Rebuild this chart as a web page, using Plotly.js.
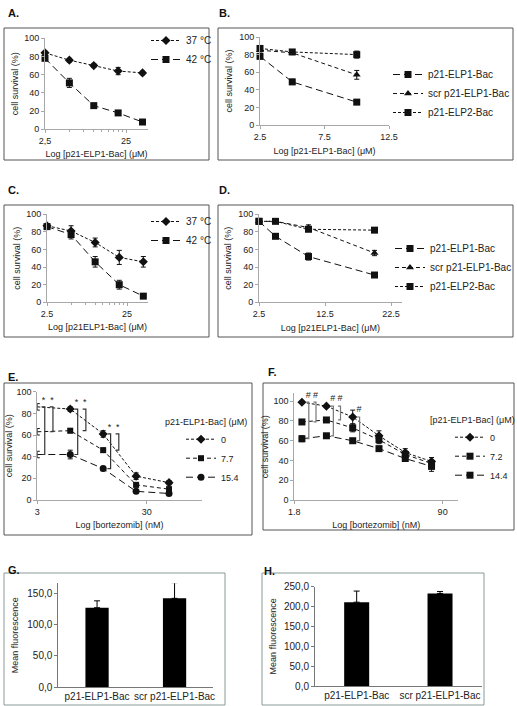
<!DOCTYPE html>
<html>
<head>
<meta charset="utf-8">
<script src="https://cdn.plot.ly/plotly-3.0.1.min.js"></script>
<style>html,body{margin:0;padding:0;background:#fff;}#chart{width:517px;height:706px;}</style>
</head>
<body>
<div id="chart"></div>
<script>
// ---------- DATA ----------
// Panel A (log x)
const concA = [2.5, 5, 10, 20, 40];
const a37 = [84, 76, 70, 64, 62];
const a37Err = [2, 2, 2, 4, 2];
const a42 = [78, 51, 26, 18, 8];
const a42Err = [2, 5, 2, 2, 1];
// Panel B (linear x)
const concB = [2.5, 5, 10];
const bElp1 = [78, 49, 26];
const bElp1Err = [3, 3, 2];
const bScr = [85, 82, 57];
const bScrErr = [2, 2, 5];
const bElp2 = [87, 83, 80];
const bElp2Err = [2, 2, 4];
// Panel C (log x)
const concC = [2.5, 5, 10, 20, 40];
const c37 = [87, 81, 68, 51, 46];
const c37Err = [2, 6, 5, 8, 6];
const c42 = [86, 77, 46, 20, 7];
const c42Err = [2, 5, 6, 5, 1];
// Panel D (linear x)
const concD = [2.5, 5, 10, 20];
const dElp1 = [92, 75, 52, 31];
const dElp1Err = [1, 2, 4, 2];
const dScr = [92, 92, 85, 56];
const dScrErr = [1, 1, 3, 3];
const dElp2 = [92, 92, 83, 82];
const dElp2Err = [1, 1, 2, 2];
// Panel E (log x, bortezomib nM)
const concE = [3, 6, 12, 24, 48];
const e0 = [86, 84, 61, 22, 16];
const e0Err = [3, 2, 3, 3, 2];
const e77 = [63, 64, 46, 14, 10];
const e77Err = [3, 2, 2, 2, 2];
const e154 = [42, 42, 29, 8, 6];
const e154Err = [3, 4, 2, 1, 1];
const eSigInner = [0, 1, 2];   // 0 vs 15.4
const eSigOuter = [0, 1, 2];   // 0 vs 7.7
// Panel F (log x, bortezomib nM)
const concF = [2.2, 4.2, 8.4, 16.8, 33.6, 67.2];
const f0 = [99, 95, 84, 65, 48, 39];
const f0Err = [1, 1, 7, 5, 4, 4];
const f72 = [79, 81, 73, 61, 46, 37];
const f72Err = [2, 1, 4, 4, 3, 3];
const f144 = [62, 65, 60, 52, 42, 34];
const f144Err = [3, 1, 1, 2, 2, 5];
const fSigInner = [0, 1, 2];   // 0 vs 14.4
const fSigOuter = [0, 1];      // 0 vs 7.2
// Panels G / H (bars)
const barCats = ['p21-ELP1-Bac', 'scr p21-ELP1-Bac'];
const gVals = [127, 142];
const gErr = [11, 25];
const hVals = [211, 233];
const hErr = [28, 5];
// Tick labels
const ticksAx = [2.5, 25], ticksAt = ['2,5', '25'];
const ticksCx = [2.5, 25], ticksCt = ['2.5', '25'];
const ticksBx = [2.5, 7.5, 12.5], ticksBt = ['2.5', '7.5', '12.5'];
const ticksDx = [2.5, 12.5, 22.5], ticksDt = ['2.5', '12.5', '22.5'];
const ticksEx = [3, 30], ticksEt = ['3', '30'];
const ticksFx = [1.8, 90], ticksFt = ['1.8', '90'];
const minorLog = [5, 7.5, 10, 12.5, 15, 17.5, 20, 22.5];
const survTicks = [0, 20, 40, 60, 80, 100];
const gTicks = [0, 50, 100, 150], gTickText = ['0,0', '50,0', '100,0', '150,0'];
const hTicks = [0, 50, 100, 150, 200, 250], hTickText = ['0,0', '50,0', '100,0', '150,0', '200,0', '250,0'];

// ---------- LAYOUT HELPERS ----------
const W = 517, H = 706;
const fx = p => p / W;
const fy = p => 1 - p / H;
const TXT = '#222';
const SHORT = '3px,2px', MED = '4px,3px', LONG = '7px,4px';
const INK = '#111';

function series(x, y, err, name, sym, size, dash, xa, ya, leg) {
  return {
    type: 'scatter', mode: 'lines+markers', x: x, y: y, name: name,
    xaxis: xa, yaxis: ya, legend: leg, showlegend: true, cliponaxis: false,
    line: {color: INK, width: 1, dash: dash},
    marker: {symbol: sym, size: size, color: INK},
    error_y: {type: 'data', array: err, visible: true, color: INK, thickness: 1, width: 2.5}
  };
}
function brackets(x, top, bot, idx, k, color, xa, ya) {
  const xs = [], ys = [];
  idx.forEach(i => {
    const xb = x[i] * k, xt = xb / 1.07;
    xs.push(xt, xb, xb, xt, null);
    ys.push(top[i], top[i], bot[i], bot[i], null);
  });
  return {type: 'scatter', mode: 'lines', x: xs, y: ys, xaxis: xa, yaxis: ya,
    showlegend: false, hoverinfo: 'skip', cliponaxis: false,
    line: {color: color, width: 1.2}};
}
function marks(x, top, idx, k, sym, dy, xa, ya) {
  return {type: 'scatter', mode: 'text', x: idx.map(i => x[i] * k), y: idx.map(i => top[i] + dy),
    text: idx.map(() => sym), textposition: 'middle center', xaxis: xa, yaxis: ya,
    showlegend: false, hoverinfo: 'skip', cliponaxis: false,
    textfont: {size: 9, color: TXT}};
}

const traces = [
  // A
  series(concA, a37, a37Err, '37 °C', 'diamond', 7, SHORT, 'x', 'y', 'legend'),
  series(concA, a42, a42Err, '42 °C', 'square', 7, LONG, 'x', 'y', 'legend'),
  // B
  series(concB, bElp1, bElp1Err, 'p21-ELP1-Bac', 'square', 7, LONG, 'x2', 'y2', 'legend2'),
  series(concB, bScr, bScrErr, 'scr p21-ELP1-Bac', 'triangle-up', 7, MED, 'x2', 'y2', 'legend2'),
  series(concB, bElp2, bElp2Err, 'p21-ELP2-Bac', 'square', 7, SHORT, 'x2', 'y2', 'legend2'),
  // C
  series(concC, c37, c37Err, '37 °C', 'diamond', 7, SHORT, 'x3', 'y3', 'legend3'),
  series(concC, c42, c42Err, '42 °C', 'square', 7, LONG, 'x3', 'y3', 'legend3'),
  // D
  series(concD, dElp1, dElp1Err, 'p21-ELP1-Bac', 'square', 7, LONG, 'x4', 'y4', 'legend4'),
  series(concD, dScr, dScrErr, 'scr p21-ELP1-Bac', 'triangle-up', 7, MED, 'x4', 'y4', 'legend4'),
  series(concD, dElp2, dElp2Err, 'p21-ELP2-Bac', 'square', 7, SHORT, 'x4', 'y4', 'legend4'),
  // E
  series(concE, e0, e0Err, '0', 'diamond', 7, SHORT, 'x5', 'y5', 'legend5'),
  series(concE, e77, e77Err, '7.7', 'square', 6, MED, 'x5', 'y5', 'legend5'),
  series(concE, e154, e154Err, '15.4', 'circle', 7, LONG, 'x5', 'y5', 'legend5'),
  brackets(concE, e0, e154, eSigInner, 1.17, '#333', 'x5', 'y5'),
  brackets(concE, e0, e77, eSigOuter, 1.39, '#333', 'x5', 'y5'),
  marks(concE, e0, eSigInner, 1.14, '*', 6, 'x5', 'y5'),
  marks(concE, e0, eSigOuter, 1.36, '*', 6, 'x5', 'y5'),
  // F
  series(concF, f0, f0Err, '0', 'diamond', 7, SHORT, 'x6', 'y6', 'legend6'),
  series(concF, f72, f72Err, '7.2', 'square', 7, MED, 'x6', 'y6', 'legend6'),
  series(concF, f144, f144Err, '14.4', 'square', 7, LONG, 'x6', 'y6', 'legend6'),
  brackets(concF, f0, f144, fSigInner, 1.2, '#777', 'x6', 'y6'),
  brackets(concF, f0, f72, fSigOuter, 1.45, '#777', 'x6', 'y6'),
  marks(concF, f0, fSigInner, 1.18, '#', 7, 'x6', 'y6'),
  marks(concF, f0, fSigOuter, 1.43, '#', 7, 'x6', 'y6'),
  // G
  {type: 'bar', x: barCats, y: gVals, xaxis: 'x7', yaxis: 'y7', width: 0.3, showlegend: false,
   marker: {color: '#000'}, cliponaxis: false,
   error_y: {type: 'data', symmetric: false, array: gErr, arrayminus: [0, 0], color: '#000', thickness: 1, width: 3}},
  // H
  {type: 'bar', x: barCats, y: hVals, xaxis: 'x8', yaxis: 'y8', width: 0.3, showlegend: false,
   marker: {color: '#000'}, cliponaxis: false,
   error_y: {type: 'data', symmetric: false, array: hErr, arrayminus: [0, 0], color: '#000', thickness: 1, width: 3}}
];

const LC = '#a8a8a8';
function axis(d0, d1, extra) {
  return Object.assign({domain: [d0, d1], showgrid: false, zeroline: false, showline: true,
    linecolor: LC, linewidth: 1, ticks: 'outside', ticklen: 3, tickcolor: LC, tickwidth: 1,
    tickfont: {size: 9, color: TXT}, fixedrange: true}, extra);
}
function ttl(text, standoff) { return {text: text, font: {size: 9, color: TXT}, standoff: standoff}; }
const L10 = Math.log10;

function survY(anchor, top, bottom, standoff, range) {
  return axis(fy(bottom), fy(top), {anchor: anchor, range: range || [0, 100], tickmode: 'array',
    tickvals: survTicks, title: ttl('cell survival (%)', standoff)});
}

const layout = {
  width: W, height: H, margin: {l: 0, r: 0, t: 0, b: 0},
  paper_bgcolor: '#fff', plot_bgcolor: 'rgba(0,0,0,0)',
  font: {family: 'Liberation Sans, Arial, sans-serif', size: 9, color: TXT},
  showlegend: true,
  // A
  xaxis: axis(fx(45), fx(148), {anchor: 'y', type: 'log', range: [L10(2.5), L10(2.5) + 103 / 81],
    tickmode: 'array', tickvals: ticksAx, ticktext: ticksAt,
    minor: {tickmode: 'array', tickvals: minorLog, ticks: 'outside', ticklen: 2, tickcolor: LC},
    title: ttl('Log [p21-ELP1-Bac] (μM)', 5)}),
  yaxis: survY('x', 38.3, 129.3, 4),
  // B
  xaxis2: axis(fx(260), fx(389), {anchor: 'y2', range: [2.5, 12.5], tickmode: 'array',
    tickvals: ticksBx, ticktext: ticksBt, title: ttl('Log [p21-ELP1-Bac] (μM)', 6)}),
  yaxis2: survY('x2', 37, 125, 5),
  // C
  xaxis3: axis(fx(47), fx(148), {anchor: 'y3', type: 'log', range: [L10(2.5), L10(2.5) + 101 / 80],
    tickmode: 'array', tickvals: ticksCx, ticktext: ticksCt,
    minor: {tickmode: 'array', tickvals: minorLog, ticks: 'outside', ticklen: 2, tickcolor: LC},
    title: ttl('Log [p21ELP1-Bac] (μM)', 5)}),
  yaxis3: survY('x3', 214.3, 302.3, 4),
  // D
  xaxis4: axis(fx(259), fx(401.7), {anchor: 'y4', range: [2.5, 24.12], tickmode: 'array',
    tickvals: ticksDx, ticktext: ticksDt, title: ttl('Log [p21ELP1-Bac] (μM)', 6)}),
  yaxis4: survY('x4', 214.3, 302.3, 5),
  // E
  xaxis5: axis(fx(37.3), fx(201.7), {anchor: 'y5', type: 'log', range: [L10(3), L10(3) + 164.4 / 109.4],
    tickmode: 'array', tickvals: ticksEx, ticktext: ticksEt, title: ttl('Log [bortezomib] (nM)', 5)}),
  yaxis5: survY('x5', 391.7, 500, 2),
  // F
  xaxis6: axis(fx(294.3), fx(458.3), {anchor: 'y6', type: 'log', range: [L10(1.8), L10(1.8) + 164 / 87.3],
    tickmode: 'array', tickvals: ticksFx, ticktext: ticksFt, title: ttl('Log [bortezomib] (nM)', 5)}),
  yaxis6: survY('x6', 393.3, 500, 3, [0, 108]),
  // G
  xaxis7: axis(fx(58.3), fx(213.3), {anchor: 'y7', type: 'category', range: [-0.5, 1.5], ticks: '',
    linecolor: '#777', tickfont: {size: 10, color: TXT}}),
  yaxis7: axis(fy(687.3), fy(583.3), {anchor: 'x7', range: [0, 166], tickmode: 'array', tickvals: gTicks,
    ticktext: gTickText, linecolor: '#777', tickcolor: '#777', tickfont: {size: 10, color: TXT},
    title: ttl('Mean fluorescence', 7)}),
  // H
  xaxis8: axis(fx(315), fx(481.7), {anchor: 'y8', type: 'category', range: [-0.5, 1.5], ticks: '',
    linecolor: '#777', tickfont: {size: 10, color: TXT}}),
  yaxis8: axis(fy(686), fy(586.7), {anchor: 'x8', range: [0, 250], tickmode: 'array', tickvals: hTicks,
    ticktext: hTickText, linecolor: '#777', tickcolor: '#777', tickfont: {size: 10, color: TXT},
    title: ttl('Mean fluorescence', 5)}),
  // legends
  legend: {x: fx(146), y: fy(26), xanchor: 'left', yanchor: 'top', bgcolor: 'rgba(0,0,0,0)',
    font: {size: 10, color: TXT}, itemwidth: 30, tracegroupgap: 0},
  legend2: {x: fx(388), y: fy(60), xanchor: 'left', yanchor: 'top', bgcolor: 'rgba(0,0,0,0)',
    font: {size: 10, color: TXT}, itemwidth: 30},
  legend3: {x: fx(146), y: fy(207), xanchor: 'left', yanchor: 'top', bgcolor: 'rgba(0,0,0,0)',
    font: {size: 10, color: TXT}, itemwidth: 30},
  legend4: {x: fx(390), y: fy(234), xanchor: 'left', yanchor: 'top', bgcolor: 'rgba(0,0,0,0)',
    font: {size: 10, color: TXT}, itemwidth: 30},
  legend5: {x: fx(163), y: fy(413), xanchor: 'left', yanchor: 'top', bgcolor: 'rgba(0,0,0,0)',
    font: {size: 9, color: TXT}, itemwidth: 30, indentation: 18,
    title: {text: 'p21-ELP1-Bac] (μM)', font: {size: 9, color: TXT}}},
  legend6: {x: fx(428), y: fy(411), xanchor: 'left', yanchor: 'top', bgcolor: 'rgba(0,0,0,0)',
    font: {size: 9, color: TXT}, itemwidth: 30, indentation: 22,
    title: {text: '[p21-ELP1-Bac] (μM)', font: {size: 9, color: TXT}}},
  shapes: [
    [4, 28, 209, 160, '#555'], [218, 28, 513, 160, '#555'],
    [4, 205, 209, 337, '#555'], [218, 205, 513, 337, '#555'],
    [4, 383, 252, 535, '#555'], [263, 383, 514, 530, '#555'],
    [4, 573, 225, 705, '#8a9999'], [262, 573, 484, 705, '#8a9999']
  ].map(b => ({type: 'rect', xref: 'paper', yref: 'paper', x0: fx(b[0]), x1: fx(b[2]),
    y0: fy(b[3]), y1: fy(b[1]), line: {color: b[4], width: 1}, fillcolor: 'rgba(0,0,0,0)'})),
  annotations: [
    ['A.', 6, 13], ['B.', 217, 13], ['C.', 6, 190], ['D.', 217, 190],
    ['E.', 6, 377], ['F.', 266, 372], ['G.', 6, 570], ['H.', 262, 571]
  ].map(a => ({text: '<b>' + a[0] + '</b>', xref: 'paper', yref: 'paper', x: fx(a[1]), y: fy(a[2]),
    xanchor: 'left', yanchor: 'middle', showarrow: false, font: {size: 11, color: '#111'}}))
};

Plotly.newPlot('chart', traces, layout, {displayModeBar: false, staticPlot: true});
</script>
</body>
</html>
